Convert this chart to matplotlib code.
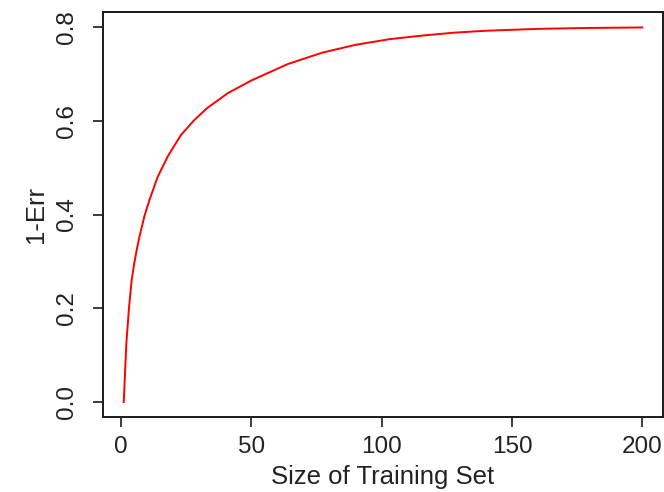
import matplotlib
matplotlib.use("Agg")
import matplotlib.pyplot as plt

train_size = [1, 2, 3, 4, 5, 6, 7, 9, 11, 14, 18, 23, 28, 33, 41, 50, 64, 77, 90, 103, 116,
              128, 140, 160, 180, 200]
one_minus_err = [0.0, 0.125, 0.20, 0.258, 0.295, 0.325, 0.352, 0.398, 0.433, 0.48, 0.525,
                 0.570, 0.601, 0.627, 0.659, 0.686, 0.721, 0.745, 0.762, 0.774, 0.782,
                 0.788, 0.792, 0.796, 0.798, 0.799]
x_ticks = [0, 50, 100, 150, 200]
y_ticks = [0.0, 0.2, 0.4, 0.6, 0.8]
y_tick_labels = ["0.0", "0.2", "0.4", "0.6", "0.8"]

plt.rcParams['font.family'] = ['Liberation Sans', 'DejaVu Sans']
fig = plt.figure(figsize=(6.64, 4.92), dpi=100)
ax = fig.add_axes([103/664, 75/492, 560/664, 405/492])

ax.plot(train_size, one_minus_err, color='red', lw=1.4)

xr = max(train_size) - min(train_size)
ax.set_xlim(min(train_size) - 0.04*xr, max(train_size) + 0.04*xr)
yr = 0.8
ax.set_ylim(-0.04*yr, 0.8 + 0.04*yr)
ax.set_xticks(x_ticks)
ax.set_yticks(y_ticks)
ax.set_yticklabels(y_tick_labels, rotation=90, va='center')
ax.tick_params(length=7, width=1.2, labelsize=17.5, pad=7, colors='#1a1a1a', labelcolor='#222222')
ax.tick_params(axis='y', pad=11)
for s in ax.spines.values():
    s.set_linewidth(1.4)
    s.set_color('#1a1a1a')
ax.set_xlabel("Size of Training Set", fontsize=18.5, labelpad=5, color='#222222')
ax.set_ylabel("1-Err", fontsize=18.5, labelpad=6, color='#222222')
fig.savefig("out.png", dpi=100)
